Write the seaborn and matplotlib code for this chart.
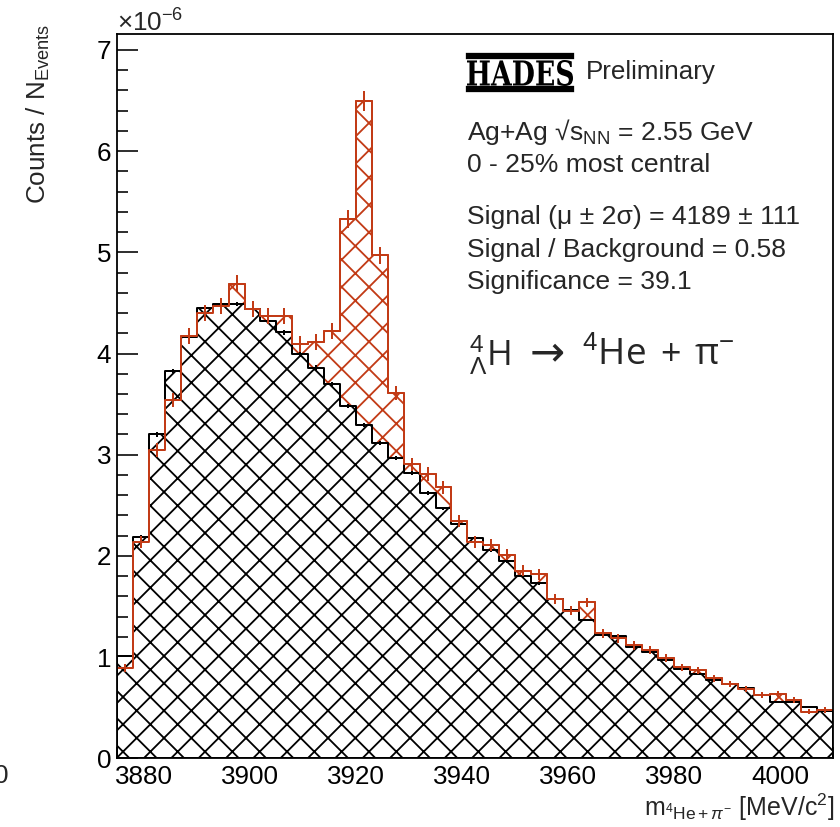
import numpy as np
import pandas as pd
import matplotlib
matplotlib.use('Agg')
import matplotlib.pyplot as plt
from matplotlib.patches import Rectangle, PathPatch
from matplotlib.textpath import TextPath
from matplotlib.font_manager import FontProperties
from matplotlib.transforms import Affine2D
from matplotlib.ticker import MultipleLocator
import seaborn as sns

# output size in pixels; dpi chosen so the hatch spacing matches the ROOT one
DPI = 164
W, H = 840, 827


def pt(px):
    # pixel size -> points at our dpi
    return px * 72 / DPI


def fx(x):
    return x / W


def fy(y):
    return 1 - y / H


# ------------------------------------------------------------
# histogram binning (MeV/c^2)
# ------------------------------------------------------------
bin_lo, bin_hi, bin_w = 3875, 4010, 3
centers = np.arange(bin_lo, bin_hi, bin_w) + bin_w / 2

# counts / N_events, in units of 1e-6
total = [0.89, 2.14, 3.05, 3.54, 4.17, 4.40, 4.47, 4.69, 4.44, 4.37,
         4.37, 4.09, 4.11, 4.22, 5.33, 6.50, 4.97, 3.61, 2.905, 2.81,
         2.68, 2.345, 2.14, 2.11, 2.01, 1.855, 1.82, 1.57, 1.46, 1.54,
         1.235, 1.186, 1.115, 1.07, 0.988, 0.899, 0.87, 0.79, 0.734, 0.685,
         0.628, 0.632, 0.58, 0.46, 0.477]
total_err = [0.037, 0.057, 0.068, 0.073, 0.080, 0.082, 0.082, 0.084, 0.082, 0.082,
             0.082, 0.079, 0.079, 0.080, 0.090, 0.099, 0.087, 0.074, 0.066, 0.065,
             0.064, 0.060, 0.057, 0.057, 0.055, 0.053, 0.053, 0.049, 0.047, 0.048,
             0.043, 0.042, 0.041, 0.040, 0.039, 0.037, 0.036, 0.035, 0.033, 0.032,
             0.031, 0.031, 0.030, 0.026, 0.027]

background = [1.01, 2.19, 3.20, 3.83, 4.16, 4.45, 4.49, 4.49, 4.44, 4.32,
              4.21, 4.00, 3.86, 3.70, 3.48, 3.29, 3.12, 2.97, 2.82, 2.62,
              2.47, 2.315, 2.18, 2.055, 1.95, 1.80, 1.73, 1.57, 1.465, 1.367,
              1.22, 1.21, 1.10, 1.053, 0.975, 0.885, 0.83, 0.774, 0.73, 0.69,
              0.625, 0.56, 0.56, 0.51, 0.47]
background_err = [0.011, 0.016, 0.020, 0.022, 0.022, 0.023, 0.023, 0.023, 0.023, 0.023,
                  0.023, 0.022, 0.022, 0.021, 0.021, 0.020, 0.019, 0.019, 0.018, 0.018,
                  0.017, 0.017, 0.016, 0.016, 0.015, 0.015, 0.014, 0.014, 0.013, 0.013,
                  0.012, 0.012, 0.012, 0.011, 0.011, 0.010, 0.010, 0.010, 0.009, 0.009,
                  0.009, 0.008, 0.008, 0.008, 0.008]

df = pd.DataFrame({'mass': centers, 'total': total, 'bkg': background,
                   'total_err': total_err, 'bkg_err': background_err})

RED = '#c23b16'

# ------------------------------------------------------------
# style
# ------------------------------------------------------------
sns.set_style('ticks')
plt.rcParams['font.family'] = ['Liberation Sans', 'DejaVu Sans']
plt.rcParams['mathtext.fontset'] = 'custom'
plt.rcParams['mathtext.rm'] = 'Liberation Sans'
plt.rcParams['mathtext.it'] = 'Liberation Sans:italic'
plt.rcParams['mathtext.sf'] = 'Liberation Sans'
plt.rcParams['hatch.linewidth'] = 0.8

fig = plt.figure(figsize=(W / DPI, H / DPI), dpi=DPI)
ax = fig.add_axes([fx(117.3), fy(758.3), (833.3 - 117.3) / W, (758.3 - 34.3) / H])

lw = pt(2.0)
hist_kws = dict(data=df, x='mass', binwidth=bin_w, binrange=(bin_lo, bin_hi),
                element='step', ax=ax)

# signal + background, red hatch
sns.histplot(weights='total', fill=True, facecolor='white', edgecolor=RED,
             hatch='xx', linewidth=lw, **hist_kws)
# background, black hatch on top
sns.histplot(weights='bkg', fill=True, facecolor='white', edgecolor='black',
             hatch='xx', linewidth=lw, **hist_kws)
# red outline again so it shows where it dips below the background
sns.histplot(weights='total', fill=False, color=RED, linewidth=lw, **hist_kws)

ax.errorbar(df['mass'], df['bkg'], yerr=df['bkg_err'], fmt='_', color='black',
            ms=pt(8), mew=lw, elinewidth=lw, capsize=0, zorder=5)
ax.errorbar(df['mass'], df['total'], yerr=df['total_err'], fmt='_', color=RED,
            ms=pt(8), mew=lw, elinewidth=lw, capsize=0, zorder=6)

# ------------------------------------------------------------
# axes
# ------------------------------------------------------------
ax.set_xlim(bin_lo, bin_hi)
ax.set_ylim(0, 7.155)
ax.set_xlabel('')
ax.set_ylabel('')
ax.xaxis.set_major_locator(MultipleLocator(20))
ax.xaxis.set_minor_locator(MultipleLocator(5))
ax.yaxis.set_major_locator(MultipleLocator(1))
ax.yaxis.set_minor_locator(MultipleLocator(0.2))
ax.tick_params(which='both', direction='in', width=pt(1.6), colors='black',
               labelsize=pt(26))
ax.tick_params(which='major', length=pt(21))
ax.tick_params(which='minor', length=pt(11))
ax.tick_params(axis='x', pad=pt(7))
ax.tick_params(axis='y', pad=pt(6))
for s in ax.spines.values():
    s.set_linewidth(pt(1.8))
    s.set_color('black')

# axis titles and exponent
fig.text(fx(117), fy(32), r'$\times$10$^{-6}$', fontsize=pt(26), va='baseline', ha='left')
fig.text(fx(38), fy(24), r'Counts / N$_{\mathrm{Events}}$', fontsize=pt(26),
         rotation=90, ha='center', va='top')
fig.text(fx(834), fy(816), r'm$_{^{4}\mathrm{He}+\pi^{-}}$ [MeV/c$^{2}$]',
         fontsize=pt(25), ha='right', va='baseline')
fig.text(fx(-6), fy(783), '0', fontsize=pt(26), ha='left', va='baseline')

# ------------------------------------------------------------
# HADES logo: bold slab letters squeezed into the logo box, bars above/below
# ------------------------------------------------------------
logo_x0, logo_x1, logo_top, logo_bot = 467, 573, 60, 86
tp = TextPath((0, 0), 'HADES', size=1,
              prop=FontProperties(family='DejaVu Serif', weight='bold'))
ext = tp.get_extents()
logo_tr = (Affine2D().translate(-ext.x0, -ext.y0)
           .scale((logo_x1 - logo_x0) / ext.width, (logo_bot - logo_top) / ext.height)
           .translate(logo_x0, H - logo_bot))
fig.add_artist(PathPatch(tp, transform=logo_tr, facecolor='black', lw=0))
fig.add_artist(Rectangle((fx(logo_x0), fy(58)), (logo_x1 - logo_x0) / W, 4 / H,
                         transform=fig.transFigure, color='black'))
fig.add_artist(Rectangle((fx(logo_x0), fy(91)), (logo_x1 - logo_x0) / W, 4 / H,
                         transform=fig.transFigure, color='black'))
fig.text(fx(586), fy(79), 'Preliminary', fontsize=pt(26), va='baseline')

# ------------------------------------------------------------
# labels inside the frame
# ------------------------------------------------------------
fig.text(fx(467), fy(140), 'Ag+Ag \u221a$\\mathrm{s}_{\\mathrm{NN}}$ = 2.55 GeV',
         fontsize=pt(26.5), va='baseline')
fig.text(fx(467), fy(172), '0 - 25% most central', fontsize=pt(26.5), va='baseline')
fig.text(fx(467), fy(224), 'Signal (\u03bc \u00b1 2\u03c3) = 4189 \u00b1 111',
         fontsize=pt(26.5), va='baseline')
fig.text(fx(467), fy(257), 'Signal / Background = 0.58', fontsize=pt(26.5), va='baseline')
fig.text(fx(467), fy(289), 'Significance = 39.1', fontsize=pt(26.5), va='baseline')

# decay channel
fig.text(fx(469), fy(365), r'${}^{4}_{\Lambda}$H', fontsize=pt(35),
         va='baseline', family='Open Sans')
fig.text(fx(530), fy(365), '\u2192', fontsize=pt(42), va='baseline',
         family='DejaVu Sans')
fig.text(fx(582), fy(365), '$^{4}$He', fontsize=pt(37),
         va='baseline', family='Open Sans')
fig.text(fx(660), fy(365), '+', fontsize=pt(36), va='baseline', family='Open Sans')
fig.text(fx(694), fy(365), '\u03c0$^{-}$', fontsize=pt(37),
         va='baseline', family='Open Sans')

fig.savefig('out.png', dpi=DPI)
plt.close(fig)
